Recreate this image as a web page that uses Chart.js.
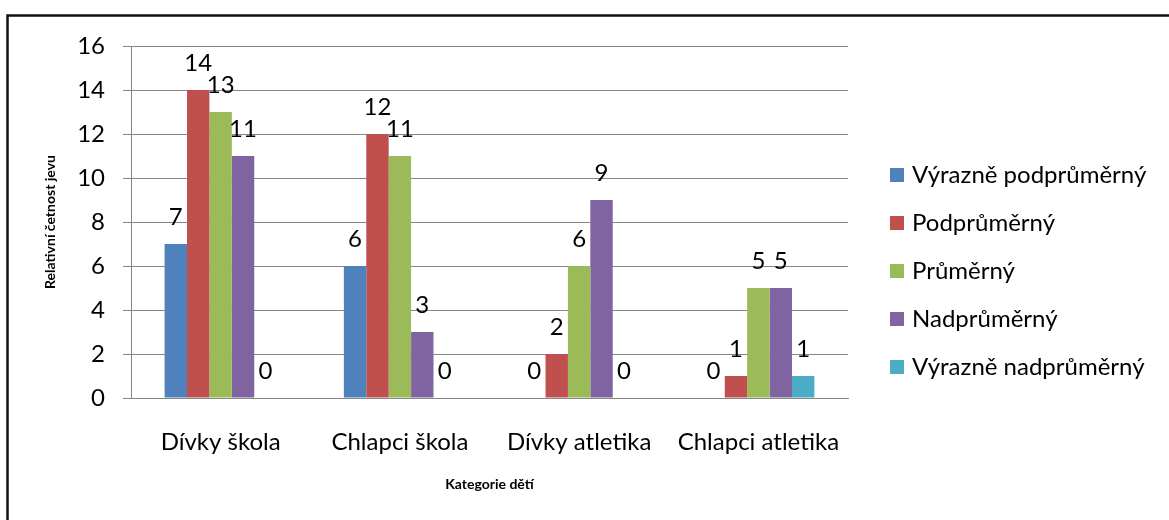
<!DOCTYPE html>
<html>
<head>
  <meta charset="utf-8">
  <title>Kategorie dětí</title>
  <script src="https://cdn.jsdelivr.net/npm/chart.js"></script>
</head>
<body style="margin: 0; background: white;">
  <canvas id="barChart" width="1169" height="520"></canvas>
  <script>
    const categories = ['Dívky škola', 'Chlapci škola', 'Dívky atletika', 'Chlapci atletika'];
    const seriesNames = ['Výrazně podprůměrný', 'Podprůměrný', 'Průměrný', 'Nadprůměrný', 'Výrazně nadprůměrný'];
    const vyraznePodprumerny = [7, 6, 0, 0];
    const podprumerny = [14, 12, 2, 1];
    const prumerny = [13, 11, 6, 5];
    const nadprumerny = [11, 3, 9, 5];
    const vyrazneNadprumerny = [0, 0, 0, 1];
    const yTicks = [0, 2, 4, 6, 8, 10, 12, 14, 16];
    const colors = ['#4f81bd', '#c0504d', '#9bbb59', '#8064a2', '#4bacc6'];

    const FONT = 'Lato, Calibri, sans-serif';
    const values = [vyraznePodprumerny, podprumerny, prumerny, nadprumerny, vyrazneNadprumerny];

    // value above each bar
    const barLabels = {
      id: 'barLabels',
      afterDatasetsDraw(chart) {
        const ctx = chart.ctx;
        ctx.save();
        ctx.font = '24px ' + FONT;
        ctx.fillStyle = '#000';
        ctx.textAlign = 'center';
        ctx.textBaseline = 'middle';
        chart.data.datasets.forEach((ds, i) => {
          chart.getDatasetMeta(i).data.forEach((bar, j) => {
            ctx.fillText(String(ds.data[j]), bar.x, bar.y - 27);
          });
        });
        ctx.restore();
      }
    };

    // legend on the right and the frame round the chart
    const sideLegend = {
      id: 'sideLegend',
      afterDraw(chart) {
        const ctx = chart.ctx;
        ctx.save();
        ctx.font = '24px ' + FONT;
        ctx.textBaseline = 'middle';
        chart.data.datasets.forEach((ds, i) => {
          const y = 175 + i * 48;
          ctx.fillStyle = ds.backgroundColor;
          ctx.fillRect(890, y - 7, 14, 14);
          ctx.fillStyle = '#000';
          ctx.fillText(ds.label, 912, y);
        });
        ctx.strokeStyle = '#111';
        ctx.lineWidth = 2.5;
        ctx.strokeRect(7.5, 15.5, 1180, 520);
        ctx.restore();
      }
    };

    new Chart(document.getElementById('barChart'), {
      type: 'bar',
      data: {
        labels: categories,
        datasets: seriesNames.map((name, i) => ({
          label: name,
          data: values[i],
          backgroundColor: colors[i],
          categoryPercentage: 0.625,
          barPercentage: 1
        }))
      },
      options: {
        responsive: false,
        animation: false,
        events: [],
        layout: { padding: { left: 0, top: 46, right: 321, bottom: 0 } },
        plugins: { legend: { display: false }, tooltip: { enabled: false } },
        scales: {
          x: {
            grid: { display: false },
            border: { color: '#868686', width: 1 },
            ticks: { color: '#000', font: { family: FONT, size: 24 }, padding: 22 },
            title: {
              display: true,
              text: 'Kategorie dětí',
              color: '#000',
              font: { family: FONT, size: 14, weight: 'bold' },
              padding: { top: 0, bottom: 27.6 }
            },
            afterFit(scale) { scale.height = 122; }
          },
          y: {
            min: 0,
            max: 16,
            afterBuildTicks(scale) { scale.ticks = yTicks.map(v => ({ value: v })); },
            grid: { color: '#868686', lineWidth: 1, tickLength: 8 },
            border: { color: '#868686', width: 1 },
            ticks: { color: '#000', font: { family: FONT, size: 24 }, padding: 18 },
            title: {
              display: true,
              text: 'Relativní četnost jevu',
              color: '#000',
              font: { family: FONT, size: 14, weight: 'bold' },
              padding: { top: 41.6, bottom: 0 }
            },
            afterFit(scale) { scale.width = 131; }
          }
        }
      },
      plugins: [barLabels, sideLegend]
    });
  </script>
</body>
</html>
